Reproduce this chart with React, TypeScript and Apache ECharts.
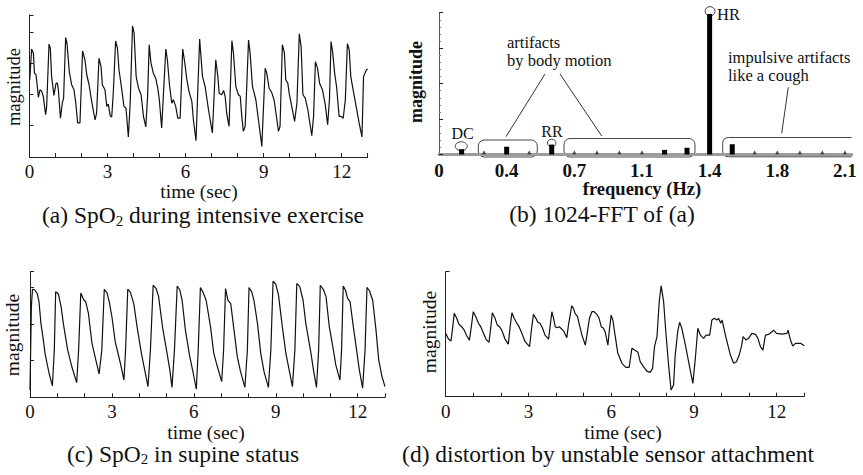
import React, { useEffect, useRef } from 'react';
import * as echarts from 'echarts';

// ---------- tick labels ----------
const TIME_TICKS = [0, 3, 6, 9, 12];
const TIME_TICK_LABELS = ['0', '3', '6', '9', '12'];
const FFT_TICKS = [0, 0.35, 0.7, 1.05, 1.4, 1.75, 2.1];
const FFT_TICK_LABELS = ['0', '0.4', '0.7', '1.1', '1.4', '1.8', '2.1'];

// ---------- (a) SpO2 during intensive exercise: [time s, magnitude] ----------
const SPO2_EXERCISE: [number, number][] = [
  [0.01, 24.7], [0.08, 34.5], [0.15, 33.2], [0.19, 26.8], [0.25, 26.3], [0.3, 22.6], [0.34, 19.1], [0.4, 21.5], [0.47, 21.0], [0.53, 19.4],
  [0.62, 13.5], [0.66, 16.2], [0.75, 36.1], [0.8, 34.8], [0.85, 25.7], [0.94, 19.7], [1.02, 23.6], [1.07, 23.6], [1.11, 21.5], [1.19, 12.4],
  [1.26, 17.2], [1.31, 18.8], [1.39, 38.2], [1.44, 36.4], [1.53, 27.3], [1.62, 23.1], [1.71, 21.5], [1.78, 17.2], [1.85, 10.9], [1.94, 10.9],
  [2.04, 33.9], [2.13, 31.1], [2.2, 26.3], [2.29, 23.1], [2.39, 17.8], [2.52, 11.9], [2.58, 14.0], [2.67, 31.6], [2.75, 28.9], [2.8, 23.1],
  [2.9, 21.5], [2.97, 16.2], [3.03, 16.9], [3.1, 13.2], [3.16, 12.8], [3.22, 20.4], [3.31, 37.1], [3.38, 34.8], [3.44, 27.9], [3.54, 22.0],
  [3.63, 16.2], [3.71, 15.6], [3.8, 6.4], [3.87, 17.2], [3.96, 41.9], [4.02, 39.6], [4.1, 25.7], [4.19, 22.0], [4.29, 19.9], [4.38, 13.0],
  [4.47, 9.6], [4.54, 19.4], [4.6, 35.9], [4.67, 30.0], [4.76, 26.8], [4.85, 25.2], [4.93, 22.0], [4.99, 18.3], [5.08, 9.3], [5.17, 23.6],
  [5.24, 34.5], [5.3, 31.1], [5.38, 23.1], [5.47, 17.2], [5.53, 18.3], [5.62, 16.2], [5.7, 12.4], [5.79, 12.4], [5.89, 34.5], [5.98, 29.5],
  [6.04, 25.2], [6.13, 21.0], [6.24, 17.8], [6.3, 11.9], [6.4, 5.2], [6.54, 37.7], [6.65, 25.7], [6.75, 22.6], [6.88, 15.1], [7.03, 7.7],
  [7.16, 31.1], [7.24, 25.7], [7.29, 20.4], [7.39, 19.9], [7.46, 21.3], [7.52, 19.4], [7.58, 14.0], [7.67, 9.8], [7.78, 37.2], [7.84, 33.2],
  [7.93, 22.6], [8.03, 19.9], [8.1, 19.4], [8.16, 13.0], [8.22, 8.2], [8.29, 9.8], [8.42, 37.4], [8.48, 33.2], [8.57, 22.6], [8.7, 18.3],
  [8.8, 11.9], [8.93, 3.4], [9.06, 28.4], [9.12, 26.8], [9.21, 22.0], [9.31, 20.6], [9.4, 18.3], [9.51, 11.9], [9.57, 8.2], [9.63, 9.8],
  [9.72, 35.9], [9.8, 33.2], [9.85, 24.7], [9.93, 23.6], [9.98, 20.4], [10.08, 16.2], [10.19, 11.4], [10.28, 17.2], [10.37, 39.4], [10.44, 35.3],
  [10.51, 19.9], [10.6, 18.8], [10.7, 15.1], [10.85, 6.8], [10.92, 13.0], [10.99, 30.5], [11.07, 28.4], [11.15, 23.6], [11.26, 21.5], [11.37, 16.7],
  [11.46, 10.3], [11.53, 18.3], [11.59, 36.9], [11.65, 33.7], [11.73, 26.8], [11.81, 22.0], [11.9, 13.0], [11.97, 13.0], [12.06, 12.4], [12.14, 18.3],
  [12.22, 36.2], [12.29, 34.3], [12.35, 25.7], [12.45, 21.0], [12.58, 15.1], [12.67, 10.9], [12.78, 6.4], [12.84, 25.7], [12.95, 27.9], [13.0, 28.1],
];

// ---------- (b) 1024-FFT of (a) ----------
const FFT_PEAK_FREQ = [0.117, 0.35, 0.583, 1.167, 1.283, 1.4, 1.517];
const FFT_PEAK_MAG = [0.15, 0.22, 0.28, 0.13, 0.19, 3.96, 0.29];
const FFT_MINOR_FREQ = [0.233, 0.467, 0.7, 0.817, 0.933, 1.05, 1.633, 1.75, 1.867, 1.983, 2.1];
const FFT_MINOR_MAG = [0.06, 0.06, 0.06, 0.06, 0.06, 0.06, 0.06, 0.06, 0.06, 0.06, 0.06];

// ---------- (c) SpO2 in supine status ----------
const SPO2_SUPINE: [number, number][] = [
  [0, 2.0], [0.05, 24.7], [0.09, 29.5], [0.18, 29.3], [0.27, 28.2], [0.33, 26.1], [0.4, 20.2], [0.49, 15.6], [0.55, 12.0], [0.7, 6.5], [0.82, 3.1],
  [0.89, 12.9], [0.94, 28.8], [1.04, 28.2], [1.14, 24.7], [1.22, 20.2], [1.38, 12.9], [1.53, 8.4], [1.71, 4.0],
  [1.78, 12.9], [1.86, 28.5], [1.96, 26.7], [2.04, 26.1], [2.14, 22.9], [2.27, 14.7], [2.41, 10.2], [2.53, 6.4],
  [2.63, 12.9], [2.72, 29.5], [2.82, 28.5], [2.9, 26.1], [3.0, 22.0], [3.12, 15.2], [3.31, 9.3], [3.44, 4.7],
  [3.5, 12.9], [3.58, 29.5], [3.67, 28.8], [3.8, 25.6], [3.92, 19.3], [4.08, 12.0], [4.2, 7.5], [4.32, 2.9],
  [4.41, 12.9], [4.51, 30.6], [4.62, 29.7], [4.71, 27.5], [4.86, 18.8], [5.02, 12.0], [5.12, 7.5], [5.2, 2.7],
  [5.29, 12.9], [5.39, 30.4], [5.49, 29.3], [5.57, 26.5], [5.69, 18.4], [5.85, 11.1], [5.98, 6.5], [6.09, 2.2],
  [6.16, 12.9], [6.24, 30.0], [6.33, 28.8], [6.45, 26.5], [6.61, 19.3], [6.73, 12.0], [6.86, 8.4], [7.02, 4.3],
  [7.09, 12.9], [7.16, 29.7], [7.25, 26.5], [7.35, 25.6], [7.47, 18.4], [7.59, 11.1], [7.71, 7.0], [7.87, 2.7],
  [7.96, 12.9], [8.02, 30.0], [8.12, 28.8], [8.2, 26.5], [8.33, 20.2], [8.45, 12.0], [8.57, 7.0], [8.73, 2.7],
  [8.82, 12.9], [8.9, 31.7], [9.0, 30.9], [9.1, 27.9], [9.24, 19.3], [9.37, 12.0], [9.49, 7.5], [9.61, 2.9],
  [9.7, 12.9], [9.77, 31.1], [9.88, 30.2], [10.0, 26.5], [10.1, 20.2], [10.29, 12.0], [10.38, 7.5], [10.49, 2.7],
  [10.57, 12.9], [10.63, 30.6], [10.74, 29.5], [10.84, 27.5], [10.96, 19.3], [11.11, 12.9], [11.2, 8.8], [11.35, 4.7],
  [11.41, 12.9], [11.47, 30.4], [11.55, 29.3], [11.63, 27.0], [11.72, 26.1], [11.84, 19.3], [11.96, 12.9], [12.06, 7.5], [12.18, 2.5],
  [12.27, 12.9], [12.34, 30.0], [12.43, 29.1], [12.55, 26.5], [12.67, 18.4], [12.77, 10.2], [12.89, 5.6], [13.0, 2.9],
];

// ---------- (d) distortion by unstable sensor attachment ----------
const SPO2_DISTORTED: [number, number][] = [
  [0, 50.7], [0.1, 46.1], [0.19, 44.5], [0.25, 54.7], [0.31, 66.7], [0.4, 62.7], [0.48, 57.9], [0.58, 56.0], [0.67, 53.3], [0.76, 48.8],
  [0.86, 45.3], [0.92, 54.7], [1.0, 68.0], [1.09, 64.0], [1.19, 58.7], [1.27, 56.0], [1.37, 50.7], [1.46, 46.1], [1.57, 43.5], [1.63, 54.7],
  [1.69, 67.2], [1.79, 62.7], [1.87, 57.3], [1.95, 56.0], [2.03, 53.3], [2.15, 46.1], [2.27, 42.1], [2.33, 54.7], [2.4, 67.2], [2.48, 62.7],
  [2.58, 58.7], [2.66, 56.0], [2.76, 50.7], [2.88, 44.0], [3.04, 40.0], [3.1, 52.0], [3.18, 65.9], [3.27, 62.7], [3.34, 59.5], [3.42, 58.7],
  [3.51, 54.7], [3.6, 49.3], [3.73, 46.1], [3.79, 57.3], [3.85, 68.0], [3.91, 62.7], [3.97, 56.0], [4.03, 55.2], [4.11, 56.0], [4.21, 54.1],
  [4.29, 52.0], [4.39, 47.2], [4.45, 57.3], [4.57, 72.8], [4.63, 70.7], [4.69, 66.7], [4.78, 64.0], [4.85, 57.3], [4.94, 49.3], [5.06, 41.3],
  [5.12, 49.3], [5.21, 62.7], [5.3, 68.0], [5.38, 68.0], [5.48, 65.9], [5.56, 62.7], [5.64, 56.0], [5.72, 54.7], [5.78, 52.0], [5.88, 41.3],
  [5.94, 54.7], [6.0, 65.3], [6.06, 61.3], [6.14, 49.3], [6.24, 34.7], [6.39, 26.7], [6.53, 23.5], [6.65, 23.5], [6.75, 38.7], [6.85, 37.3],
  [6.97, 35.5], [7.05, 28.0], [7.17, 24.0], [7.29, 20.5], [7.41, 19.5], [7.5, 22.7], [7.57, 40.0], [7.66, 48.0], [7.74, 76.0], [7.81, 88.8],
  [7.9, 76.0], [7.98, 52.0], [8.08, 25.3], [8.17, 5.3], [8.26, 9.3], [8.32, 33.3], [8.41, 52.0], [8.48, 59.5], [8.56, 54.7], [8.69, 41.3],
  [8.83, 25.3], [8.96, 10.7], [9.05, 30.7], [9.14, 54.7], [9.23, 49.3], [9.35, 46.7], [9.44, 49.3], [9.57, 49.3], [9.65, 61.3], [9.74, 62.7],
  [9.83, 61.3], [9.89, 62.7], [9.97, 58.7], [10.02, 61.3], [10.14, 49.3], [10.23, 41.3], [10.32, 33.3], [10.44, 26.7], [10.54, 28.0], [10.64, 33.3],
  [10.72, 40.0], [10.78, 48.0], [10.89, 45.3], [10.98, 46.7], [11.1, 50.7], [11.23, 49.9], [11.32, 46.7], [11.41, 40.0], [11.5, 37.3], [11.59, 49.3],
  [11.71, 49.9], [11.83, 52.0], [11.89, 53.3], [11.99, 50.7], [12.19, 50.1], [12.37, 50.7], [12.41, 53.3], [12.5, 45.3], [12.58, 40.5], [12.68, 42.7],
  [12.86, 42.7], [13.0, 40.8],
];

const FONT = "'Liberation Serif', 'Times New Roman', Times, serif";
const INK = '#111';
const AXIS = '#222';

// open-ended rounded bracket (right side open) used in panel (b)
echarts.graphic.registerShape(
  'openBox',
  echarts.graphic.extendPath('M129 0 L6 0 Q0 0 0 6 L0 13.3 Q0 19.3 6 19.3 L129 19.3', {}) as any
);

function timeXAxis(gridIndex: number) {
  return {
    type: 'value',
    gridIndex,
    min: 0,
    max: 13,
    interval: 1,
    axisLine: { show: true, onZero: false, lineStyle: { color: AXIS, width: 1 } },
    axisTick: { show: true, inside: true, length: 4, lineStyle: { color: AXIS, width: 1 } },
    axisLabel: {
      show: true,
      margin: 5,
      fontFamily: FONT,
      fontSize: 19,
      color: INK,
      formatter: (v: number) => {
        const i = TIME_TICKS.findIndex((t) => Math.abs(t - v) < 1e-6);
        return i >= 0 ? TIME_TICK_LABELS[i] : '';
      },
    },
    splitLine: { show: false },
  };
}

function magYAxis(gridIndex: number, max: number, interval: number) {
  return {
    type: 'value',
    gridIndex,
    min: 0,
    max,
    interval,
    axisLine: { show: true, onZero: false, lineStyle: { color: AXIS, width: 1 } },
    axisTick: { show: true, inside: true, length: 4, lineStyle: { color: AXIS, width: 1 } },
    axisLabel: { show: false },
    splitLine: { show: false },
  };
}

function text(x: number, y: number, t: string, size: number, extra: any = {}) {
  const style: any = {
    text: t,
    fontFamily: FONT,
    fontSize: size,
    fontWeight: extra.bold ? 'bold' : 'normal',
    fill: INK,
    align: extra.align || 'center',
    verticalAlign: 'middle',
  };
  if (extra.lineHeight) style.lineHeight = extra.lineHeight;
  if (extra.rich) style.rich = extra.rich;
  const el: any = { type: 'text', x, y, style };
  if (extra.rotation) el.rotation = extra.rotation;
  return el;
}

// subscript: small token pushed to the bottom of the caption line
const SUB_RICH = {
  sub: { fontFamily: FONT, fontSize: 15, fill: INK, verticalAlign: 'bottom', height: 9, lineHeight: 9 },
};

export default function App() {
  const ref = useRef<HTMLDivElement>(null);

  useEffect(() => {
    if (!ref.current) return;
    const chart = echarts.init(ref.current, null, { renderer: 'svg' });

    const lineStyle = { color: INK, width: 1.2 };
    const stroke = { fill: 'none', stroke: '#444', lineWidth: 1 };

    const option: any = {
      animation: false,
      backgroundColor: '#fff',
      grid: [
        { left: 29.5, top: 15, width: 338.2, height: 142 },
        { left: 439, top: 12.7, width: 412.7, height: 141.8 },
        { left: 30, top: 271.7, width: 355, height: 125.6 },
        { left: 445.7, top: 271.7, width: 358.6, height: 125 },
      ],
      xAxis: [
        timeXAxis(0),
        {
          type: 'value',
          gridIndex: 1,
          min: 0,
          max: 2.135,
          interval: 0.35,
          axisLine: { show: true, onZero: false, lineStyle: { color: '#9c9c9c', width: 3 } },
          axisTick: { show: false },
          axisLabel: {
            show: true,
            margin: 6,
            fontFamily: FONT,
            fontSize: 19,
            fontWeight: 'bold',
            color: INK,
            formatter: (v: number) => {
              const i = FFT_TICKS.findIndex((t) => Math.abs(t - v) < 1e-6);
              return i >= 0 ? FFT_TICK_LABELS[i] : '';
            },
          },
          splitLine: { show: false },
        },
        timeXAxis(2),
        timeXAxis(3),
      ],
      yAxis: [
        magYAxis(0, 45.4, 10),
        {
          ...magYAxis(1, 4, 1),
          axisLine: { show: true, onZero: false, lineStyle: { color: '#555', width: 1 } },
          minorTick: { show: true, splitNumber: 5, length: 2, lineStyle: { color: '#777' } },
        },
        magYAxis(2, 34.3, 10),
        magYAxis(3, 100, 100),
      ],
      series: [
        { type: 'line', xAxisIndex: 0, yAxisIndex: 0, data: SPO2_EXERCISE, showSymbol: false, lineStyle },
        {
          type: 'bar',
          xAxisIndex: 1,
          yAxisIndex: 1,
          barWidth: 5,
          data: FFT_PEAK_FREQ.map((f, i) => [f, FFT_PEAK_MAG[i]]),
          itemStyle: { color: '#000' },
        },
        {
          type: 'scatter',
          xAxisIndex: 1,
          yAxisIndex: 1,
          symbol: 'triangle',
          symbolSize: [4, 4],
          data: FFT_MINOR_FREQ.map((f, i) => [f, FFT_MINOR_MAG[i]]),
          itemStyle: { color: '#222' },
        },
        { type: 'line', xAxisIndex: 2, yAxisIndex: 2, data: SPO2_SUPINE, showSymbol: false, lineStyle },
        { type: 'line', xAxisIndex: 3, yAxisIndex: 3, data: SPO2_DISTORTED, showSymbol: false, lineStyle },
      ],
      graphic: [
        // axis names
        text(14, 87, 'magnitude', 18.5, { rotation: Math.PI / 2 }),
        text(199, 191, 'time (sec)', 19.5, { lineHeight: 17 }),
        text(416, 82, 'magnitude', 18, { rotation: Math.PI / 2, bold: true }),
        text(642, 189, 'frequency (Hz)', 18.5, { bold: true, lineHeight: 17 }),
        text(12.5, 335, 'magnitude', 19.5, { rotation: Math.PI / 2 }),
        text(206, 432, 'time (sec)', 19.5, { lineHeight: 17 }),
        text(429, 332, 'magnitude', 19.5, { rotation: Math.PI / 2 }),
        text(623, 432, 'time (sec)', 19.5, { lineHeight: 17 }),
        // captions
        text(203, 215, '(a) SpO{sub|2} during intensive exercise', 23.5, { lineHeight: 20, rich: SUB_RICH }),
        text(602, 214, '(b) 1024-FFT of (a)', 23.5, { lineHeight: 20 }),
        text(183, 453.5, '(c) SpO{sub|2} in supine status', 23.5, { lineHeight: 20, rich: SUB_RICH }),
        text(608, 453.5, '(d) distortion by unstable sensor attachment', 23.5, { lineHeight: 20 }),
        // FFT annotations
        text(462.5, 133.5, 'DC', 16),
        text(552, 131, 'RR', 16),
        text(717, 14, 'HR', 16.5, { align: 'left' }),
        text(507, 51, 'artifacts\nby body motion', 16.5, { align: 'left', lineHeight: 18 }),
        text(728, 66, 'impulsive artifacts\nlike a cough', 16.5, { align: 'left', lineHeight: 18 }),
        { type: 'ellipse', shape: { cx: 461.3, cy: 146.2, rx: 6, ry: 4.4 }, style: stroke },
        { type: 'ellipse', shape: { cx: 551.7, cy: 143, rx: 4.3, ry: 3.8 }, style: stroke },
        { type: 'ellipse', shape: { cx: 710, cy: 11.3, rx: 5, ry: 4.7 }, style: stroke },
        { type: 'rect', shape: { x: 478.3, y: 140, width: 59, height: 17, r: 6 }, style: stroke },
        { type: 'rect', shape: { x: 564, y: 138.5, width: 131, height: 18.5, r: 6 }, style: stroke },
        { type: 'openBox', x: 722.7, y: 137.5, style: stroke },
        { type: 'line', shape: { x1: 545, y1: 74, x2: 506, y2: 136.7 }, style: { stroke: '#333', lineWidth: 1 } },
        { type: 'line', shape: { x1: 560, y1: 74, x2: 601.7, y2: 136 }, style: { stroke: '#333', lineWidth: 1 } },
        { type: 'line', shape: { x1: 788.3, y1: 87.3, x2: 781.7, y2: 133.3 }, style: { stroke: '#333', lineWidth: 1 } },
      ],
    };

    chart.setOption(option);
    return () => chart.dispose();
  }, []);

  return (
    <div
      ref={ref}
      style={{ position: 'absolute', left: 0, top: 0, width: 863, height: 475, background: '#fff' }}
    />
  );
}
